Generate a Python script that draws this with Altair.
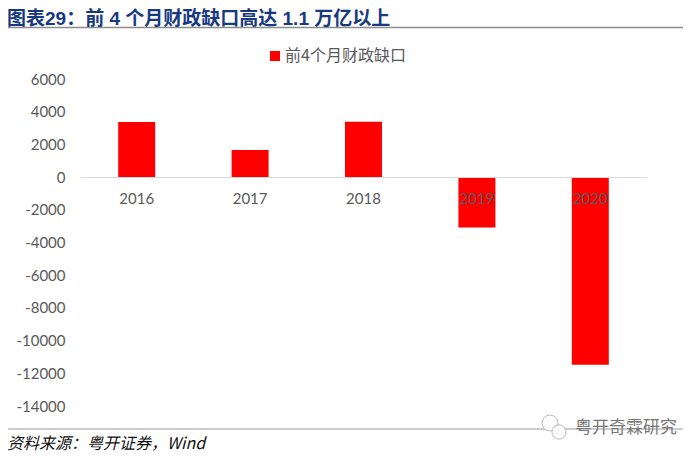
import altair as alt
import pandas as pd

years = ["2016", "2017", "2018", "2019", "2020"]
values = [3370, 1650, 3390, -3080, -11480]
series = "前4个月财政缺口"
y_ticks = [6000, 4000, 2000, 0, -2000, -4000, -6000, -8000, -10000, -12000, -14000]
title_text = "图表29：前 4 个月财政缺口高达 1.1 万亿以上"
source_text = "资料来源：粤开证券，Wind"
mark_text = "粤开奇霖研究"

CJK = "Noto Sans CJK SC"
TITLE_FONT = "Liberation Sans, Noto Sans CJK SC"
df = pd.DataFrame({"year": years, "value": values, "series": [series] * len(years)})
one = pd.DataFrame({"a": [0]})

bars = alt.Chart(df).mark_bar(size=37).encode(
    x=alt.X("year:N", title=None, sort=years, scale=alt.Scale(paddingInner=0, paddingOuter=0),
            axis=alt.Axis(offset=-229, labelAngle=0, ticks=False, domainColor="#D9D9D9", domainWidth=1.2,
                          labelColor="#595959", labelFont="Lato", labelFontSize=15, labelPadding=14,
                          zindex=1, grid=False)),
    y=alt.Y("value:Q", title=None, scale=alt.Scale(domain=[-14000, 6000], nice=False),
            axis=alt.Axis(values=y_ticks, labelExpr="'' + datum.value", domain=False, ticks=False, grid=False,
                          labelColor="#595959", labelFont="Lato", labelFontSize=15, labelPadding=15)),
    color=alt.Color("series:N", scale=alt.Scale(domain=[series], range=["#FF0000"]),
                    legend=alt.Legend(title=None, orient="none", legendX=187, legendY=-31,
                                      symbolType="square", symbolSize=100, symbolStrokeWidth=0,
                                      labelFont=CJK, labelFontSize=16, labelColor="#595959",
                                      labelLimit=200, labelOffset=2, symbolOffset=0)),
)

def txt(s, x, y, size, color, font=CJK, **kw):
    return alt.Chart(one).mark_text(text=s, align="left", baseline="middle", font=font, fontSize=size,
                                    color=color, **kw).encode(x=alt.value(x), y=alt.value(y))

def rule(x1, x2, y, color, w):
    return alt.Chart(one).mark_rule(color=color, strokeWidth=w).encode(
        x=alt.value(x1), x2=alt.value(x2), y=alt.value(y))

def bubble(x, y, size):
    return alt.Chart(one).mark_circle(size=size, fill="white", stroke="#BBBBBB", opacity=1,
                                      strokeWidth=1).encode(x=alt.value(x), y=alt.value(y))

title = txt(title_text, -73, -60, 19, "#17397F", font=TITLE_FONT, fontWeight="bold")
title_rule = rule(-75, 603, -51.5, "#8C8C8C", 1.5)
foot_rule = rule(-75, 603, 350, "#999999", 1.2)
source = txt(source_text, -73, 364.5, 16, "#111111", fontStyle="italic")
watermark = txt(mark_text, 495, 349, 17, "#777777")

chart = alt.layer(title_rule, foot_rule, bars, title, source,
                  bubble(470, 344, 255), bubble(479, 353, 200), watermark).properties(
    width=567, height=327,
    padding={"left": 72, "top": 71, "right": 45, "bottom": 46},
    autosize=alt.AutoSizeParams(type="none"),
    background="white",
).configure_view(stroke=None)

chart.save("out.html", embed_options={"renderer": "svg", "actions": False})
